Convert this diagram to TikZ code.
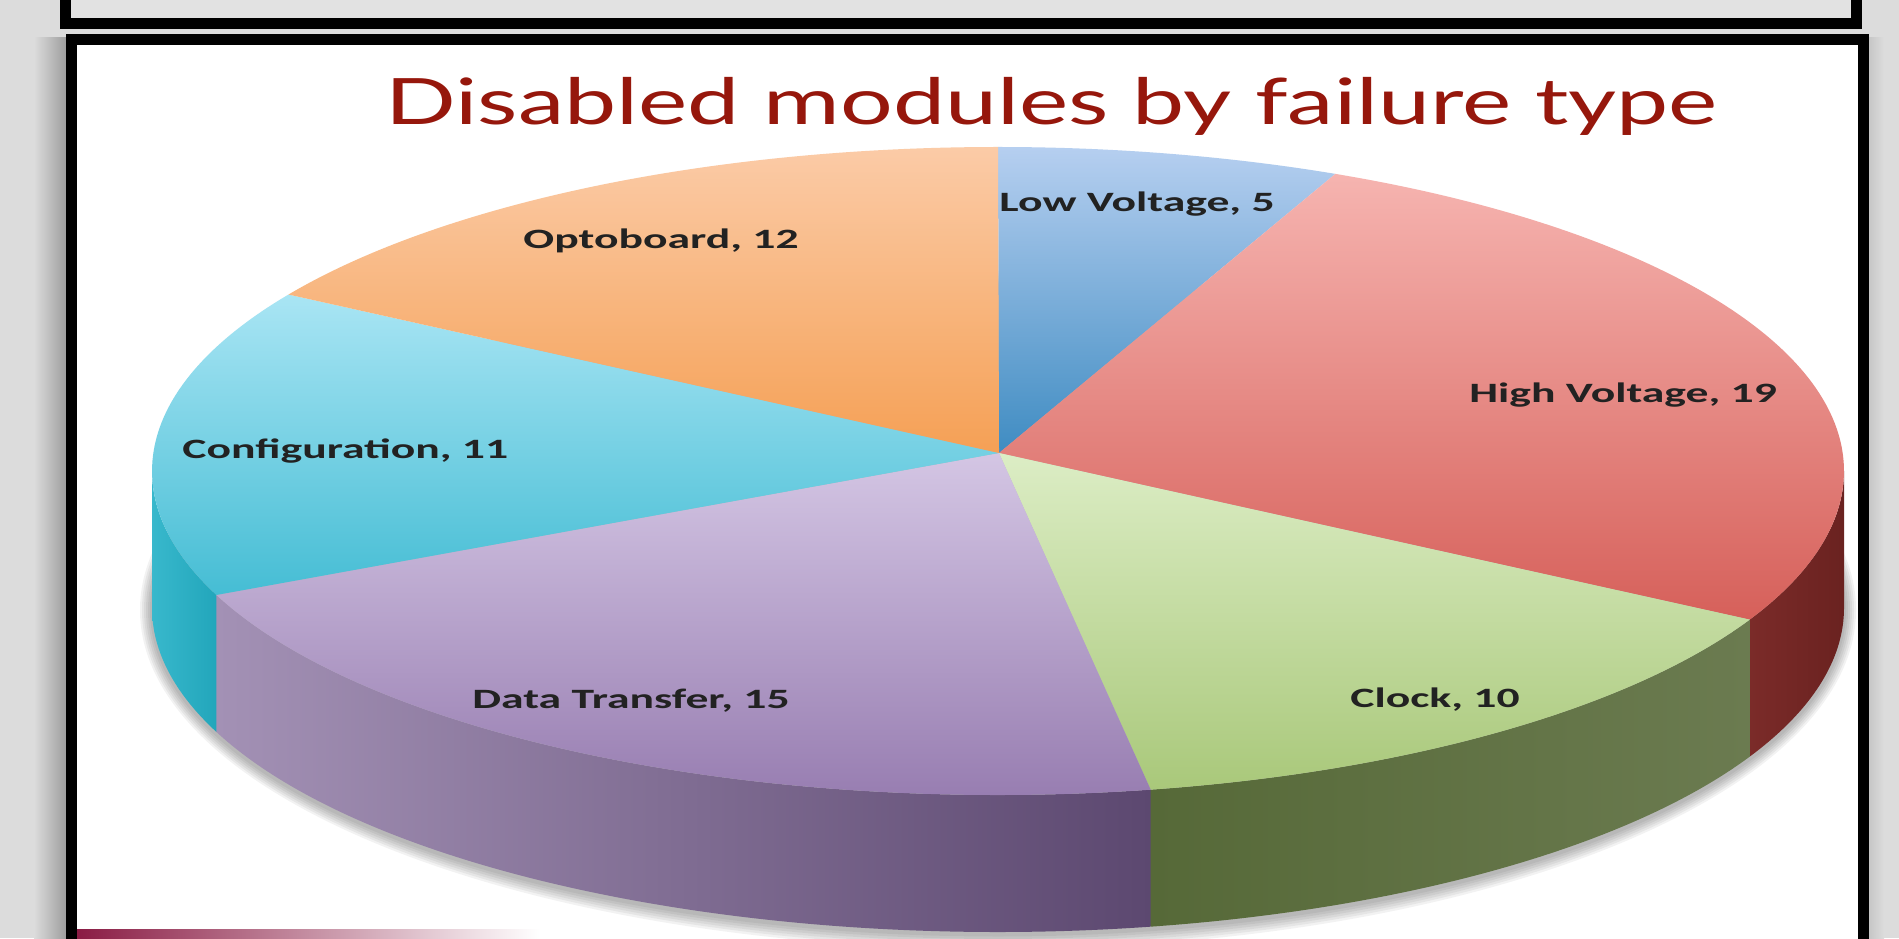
\documentclass[tikz,border=0pt]{standalone}
\usepackage{fontspec}
\usepackage{graphicx}
\setmainfont{Carlito}
\newfontfamily\titlefont{Lato}
\definecolor{bggray}{HTML}{DCDCDC}
\definecolor{topgray}{HTML}{E2E2E2}
\definecolor{shadowgray}{HTML}{9A9A9A}
\definecolor{titlered}{HTML}{96170C}
\definecolor{labeltext}{HTML}{222222}
\definecolor{maroonbar}{HTML}{8A1C44}
% top faces
\definecolor{lvtop}{HTML}{B6CFF0}\definecolor{lvbot}{HTML}{3F8CC2}
\definecolor{hvtop}{HTML}{F6B4B0}\definecolor{hvbot}{HTML}{D6605A}
\definecolor{cktop}{HTML}{DCEDC5}\definecolor{ckbot}{HTML}{A9C87A}
\definecolor{dttop}{HTML}{D4C6E4}\definecolor{dtbot}{HTML}{9479AE}
\definecolor{cftop}{HTML}{A9E5F4}\definecolor{cfbot}{HTML}{45BDD4}
\definecolor{optop}{HTML}{FBCBA7}\definecolor{opbot}{HTML}{F5A055}
% side walls
\definecolor{hvsideL}{HTML}{7B2B29}\definecolor{hvsideR}{HTML}{6A2220}
\definecolor{cksideL}{HTML}{566938}\definecolor{cksideR}{HTML}{6B7B50}
\definecolor{dtsideL}{HTML}{A391B5}\definecolor{dtsideR}{HTML}{5C4870}
\definecolor{cfsideL}{HTML}{38B8CC}\definecolor{cfsideR}{HTML}{22A6BB}
\newcommand\stretchlbl[1]{\scalebox{1.63}[1]{#1}}
\tikzset{
  lbl/.style={anchor=base west, inner sep=0pt, text=labeltext,
    font=\fontsize{14pt}{16pt}\selectfont\bfseries},
  rimarc/.style={x radius=846, y radius=324}
}
\begin{document}
\begin{tikzpicture}[x=0.5pt,y=0.5pt]
\useasboundingbox (0,0) rectangle (1899,938);
\clip (0,0) rectangle (1899,938);
% background
\fill[bggray] (0,0) rectangle (1899,938);
% top panel
\draw[line width=5.5pt, fill=topgray] (65,914) rectangle (1856,960);
% drop shadow of the main panel
\shade[left color=bggray, right color=shadowgray] (34,-10) rectangle (68,900);
\shade[left color=shadowgray!60, right color=bggray] (1866,-10) rectangle (1884,900);
% main panel
\draw[line width=5.5pt, fill=white] (71,-30) rectangle (1863,898);
% maroon strip at the bottom
\shade[left color=maroonbar, right color=white] (77,0) rectangle (540,9);

% pie geometry
\coordinate (C) at (998,467);
\coordinate (A) at (999,485);
\path (C) ++(90:846 and 324) coordinate (r0);
\path (C) ++(66.5:846 and 324) coordinate (r1);
\path (C) ++(-27.3:846 and 324) coordinate (r2);
\path (C) ++(-79.6:846 and 324) coordinate (r3);
\path (C) ++(-157.5:846 and 324) coordinate (r4);
\path (C) ++(-213:846 and 324) coordinate (r5);
\path (C) ++(0:846 and 324) coordinate (e0);
\path (C) ++(-180:846 and 324) coordinate (e1);

% soft shadow under the pie
\foreach \i in {1,...,6}{
  \fill[black, opacity=0.05] (998,328) ellipse[x radius=846+2*\i, y radius=324+2.5*\i];
}

% side walls
\shade[left color=hvsideL, right color=hvsideR]
  (e0) arc[start angle=0, end angle=-27.3, rimarc] -- ++(0,-137)
  arc[start angle=-27.3, end angle=0, rimarc] -- cycle;
\shade[left color=cksideL, right color=cksideR]
  (r2) arc[start angle=-27.3, end angle=-79.6, rimarc] -- ++(0,-137)
  arc[start angle=-79.6, end angle=-27.3, rimarc] -- cycle;
\shade[left color=dtsideL, right color=dtsideR]
  (r3) arc[start angle=-79.6, end angle=-157.5, rimarc] -- ++(0,-137)
  arc[start angle=-157.5, end angle=-79.6, rimarc] -- cycle;
\shade[left color=cfsideL, right color=cfsideR]
  (r4) arc[start angle=-157.5, end angle=-180, rimarc] -- ++(0,-137)
  arc[start angle=-180, end angle=-157.5, rimarc] -- cycle;

% top faces
\shade[top color=lvtop, bottom color=lvbot]
  (A) -- (r0) arc[start angle=90, end angle=66.5, rimarc] -- cycle;
\shade[top color=hvtop, bottom color=hvbot]
  (A) -- (r1) arc[start angle=66.5, end angle=-27.3, rimarc] -- cycle;
\shade[top color=cktop, bottom color=ckbot]
  (A) -- (r2) arc[start angle=-27.3, end angle=-79.6, rimarc] -- cycle;
\shade[top color=dttop, bottom color=dtbot]
  (A) -- (r3) arc[start angle=-79.6, end angle=-157.5, rimarc] -- cycle;
\shade[top color=cftop, bottom color=cfbot]
  (A) -- (r4) arc[start angle=-157.5, end angle=-213, rimarc] -- cycle;
\shade[top color=optop, bottom color=opbot]
  (A) -- (r5) arc[start angle=-213, end angle=-270, rimarc] -- cycle;

% labels
\node[lbl] (lv) at (999,726) {\stretchlbl{Low Voltage, 5}};
\node[lbl] (op) at (523,689) {\stretchlbl{Optoboard, 12}};
\node[lbl] (hv) at (1469,535) {\stretchlbl{High Voltage, 19}};
\node[lbl] (cf) at (182,480) {\stretchlbl{Configuration, 11}};
\node[lbl] (dt) at (472,230) {\stretchlbl{Data Transfer, 15}};
\node[lbl] (ck) at (1350,231) {\stretchlbl{Clock, 10}};

% title
\node[anchor=base west, inner sep=0pt, text=titlered,
  font=\titlefont\fontsize{32pt}{36pt}\selectfont] (title) at (385,813)
  {\scalebox{1.455}[1]{Disabled modules by failure type}};
\end{tikzpicture}
\end{document}
